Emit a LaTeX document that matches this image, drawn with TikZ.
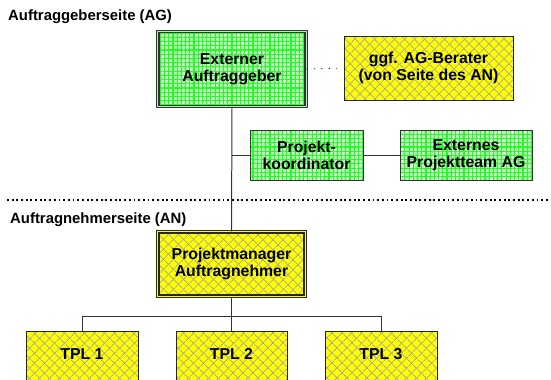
\documentclass[tikz,border=0pt]{standalone}
\usepackage{fontspec}
\setmainfont{Liberation Sans}
\usetikzlibrary{patterns.meta}

\definecolor{agGreen}{RGB}{185,235,185}
\definecolor{agGrid}{RGB}{30,255,30}
\definecolor{anYellow}{RGB}{255,255,0}
\definecolor{anHatch}{RGB}{170,170,150}

\tikzstyle{agbox} = [
    rectangle,
    draw=black!80,
    line width=0.85pt,
    preaction={fill=agGreen},
    preaction={pattern={Lines[angle=45,distance=8pt,line width=2pt]}, pattern color=white!60!agGreen},
    preaction={pattern={Lines[angle=0,distance=3.6pt,line width=1pt]}, pattern color=agGrid},
    preaction={pattern={Lines[angle=90,distance=3.6pt,line width=1pt]}, pattern color=agGrid},
    font=\bfseries\fontsize{13.5}{14.5}\selectfont,
    align=center,
    inner sep=0pt
]
\tikzstyle{anbox} = [
    rectangle,
    draw=black!85,
    line width=0.85pt,
    preaction={fill=anYellow},
    preaction={pattern={Lines[angle=45,distance=6.4pt,line width=0.9pt]}, pattern color=anHatch},
    preaction={pattern={Lines[angle=-45,distance=6.4pt,line width=0.9pt]}, pattern color=anHatch},
    font=\bfseries\fontsize{13.5}{14.5}\selectfont,
    align=center,
    inner sep=0pt
]
\tikzstyle{twoline} = [double distance=1.1pt, line width=0.95pt]
\tikzstyle{side} = [font=\bfseries\fontsize{12.7}{14}\selectfont, anchor=west, inner sep=0pt]
\tikzstyle{link} = [line width=0.85pt, draw=black!80]

\begin{document}
\begin{tikzpicture}[x=0.3mm, y=-0.3mm]

\useasboundingbox (0,0) rectangle (551,379);
\clip (0,0) rectangle (551,379);

% Auftraggeberseite
\node (agtitle) [side] at (8,17) {Auftraggeberseite (AG)};

\node (ext) [agbox, twoline, double=agGreen, minimum width=4.45cm, minimum height=2.26cm]
    at (232,69) {Externer\\Auftraggeber};

\node (berater) [anbox, minimum width=5.07cm, minimum height=1.92cm]
    at (428.5,68) {ggf. AG-Berater\\(von Seite des AN)};

\node (koord) [agbox, minimum width=3.39cm, minimum height=1.5cm]
    at (306.5,155) {Projekt-\\koordinator};

\node (team) [agbox, minimum width=3.96cm, minimum height=1.5cm]
    at (466,155) {Externes\\Projektteam AG};

% Grenze
\coordinate (sepL) at (7,200);
\coordinate (sepR) at (551,200);
\draw [line width=1.6pt, dash pattern=on 1.6pt off 2.4pt] (sepL) -- (sepR);

% Auftragnehmerseite
\node (antitle) [side] at (10,220) {Auftragnehmerseite (AN)};

\node (pm) [anbox, twoline, double=anYellow, minimum width=4.42cm, minimum height=1.93cm]
    at (231.5,264) {Projektmanager\\Auftragnehmer};

\node (tpl1) [anbox, anchor=north, minimum width=3.36cm, text height=0.84cm, text depth=1.56cm]
    at (82,331) {TPL 1};
\node (tpl2) [anbox, anchor=north, minimum width=3.33cm, text height=0.84cm, text depth=1.56cm]
    at (231.5,331) {TPL 2};
\node (tpl3) [anbox, anchor=north, minimum width=3.36cm, text height=0.84cm, text depth=1.56cm]
    at (381,331) {TPL 3};

% Verbindungen
\draw [line width=0.7pt, dash pattern=on 0.8pt off 5.5pt] (ext.east) -- (berater.west);
\draw [link] (ext.south) -- (pm.north);
\draw [link] (koord.west) -- (koord.west -| ext.south);
\draw [link] (koord.east) -- (team.west);

\coordinate (bus) at (231.5,316);
\draw [link] (pm.south) -- (bus);
\draw [link] (tpl1.north) |- (bus) -| (tpl3.north);
\draw [link] (bus) -- (tpl2.north);

\end{tikzpicture}
\end{document}
